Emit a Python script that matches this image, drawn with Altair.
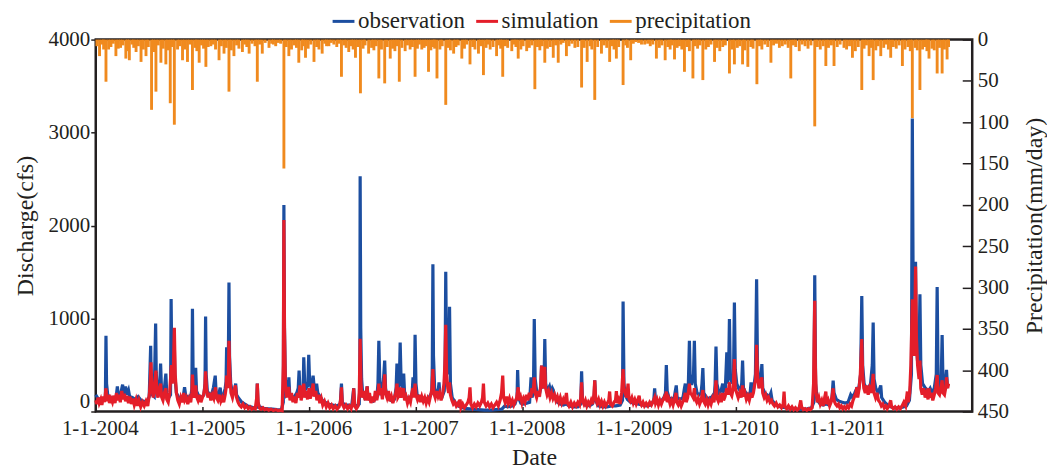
import altair as alt
import pandas as pd

# ---- data (day offset from 1-1-2004, value) ----
OBS = [
    (0,180),(8,140),(20,120),(33,150),(35,815),(37,300),(41,180),(50,150),(60,140),(70,160),(74,270),(77,170),(86,200),(92,290),(95,190),(102,270),(106,180),(112,230),(116,160),(125,150),(135,130),(145,160),(155,120),(165,110),(175,100),(183,160),(188,707),(190,300),(193,180),(200,160),(205,947),(207,420),(211,220),(218,200),(222,515),(225,240),(232,160),(240,407),(243,190),(250,150),(256,180),(258,1211),(260,600),(264,350),(268,880),(271,380),(276,200),(284,150),(292,140),(300,170),(304,260),(308,170),(318,150),(326,180),(329,240),(331,1104),(333,480),(336,260),(340,300),(342,470),(345,220),(352,170),(362,150),
    (370,180),(374,300),(376,1022),(378,400),(382,220),(390,180),(398,200),(403,260),(409,386),(412,200),(420,170),(426,257),(429,170),(436,160),(443,250),(446,320),(448,690),(451,380),(454,600),(456,1386),(458,600),(462,300),(468,200),(475,220),(479,300),(482,180),(490,140),(500,100),(510,80),(520,60),(530,50),(540,40),(550,45),(552,200),(553,300),(555,100),(560,50),(575,35),(590,30),(605,25),(620,20),(635,18),(642,100),(644,2220),(646,900),(649,350),(653,180),(658,200),(661,368),(664,180),(670,150),(680,160),(688,200),(693,250),(696,440),(699,230),(705,200),(710,250),(712,582),(715,320),(720,250),(726,280),(729,611),(732,320),(738,250),
    (744,386),(748,250),(752,230),(756,300),(760,200),(768,160),(776,120),(785,100),(795,80),(810,70),(825,60),(837,80),(841,300),(844,100),(852,70),(865,70),(876,60),(883,250),(886,70),(895,60),(902,80),(904,400),(905,2530),(907,900),(910,350),(914,180),(920,150),(926,200),(929,270),(932,150),(940,120),(950,110),(962,150),(966,300),(969,761),(972,350),(976,200),(982,220),(986,400),(989,547),(992,250),(998,150),(1006,130),(1015,110),(1022,130),(1028,250),(1031,515),(1034,220),(1039,300),(1042,743),(1045,350),(1050,250),(1054,407),(1057,200),(1065,140),(1075,120),(1083,200),(1086,368),(1089,200),(1091,300),(1093,825),(1096,300),
    (1100,180),(1110,150),(1120,140),(1130,130),(1140,150),(1150,200),(1152,500),(1154,1583),(1156,600),(1160,250),(1165,200),(1172,220),(1175,314),(1178,180),(1186,160),(1193,220),(1196,600),(1198,1504),(1200,800),(1206,400),(1209,700),(1211,1126),(1214,300),(1220,150),(1230,100),(1240,60),(1255,40),(1270,30),(1290,25),(1310,20),(1330,15),(1350,15),(1370,20),(1390,25),(1400,60),(1410,50),(1425,60),(1435,80),(1442,150),(1444,447),(1447,150),(1455,90),
    (1465,80),(1475,90),(1485,100),(1490,368),(1493,150),(1498,200),(1501,994),(1504,350),(1510,200),(1518,180),(1523,250),(1526,493),(1529,300),(1534,250),(1537,779),(1540,300),(1546,200),(1550,250),(1553,270),(1558,200),(1563,250),(1566,230),(1572,150),(1580,100),(1590,80),(1600,70),(1611,80),(1620,60),(1635,50),(1650,50),(1660,80),(1663,432),(1666,120),(1675,70),(1690,60),(1700,80),(1706,150),(1708,335),(1711,120),(1720,60),(1735,50),(1750,50),(1765,60),(1780,60),(1795,70),(1803,120),(1805,1183),(1808,300),(1812,180),(1820,130),
    (1830,100),(1840,90),(1855,80),(1870,70),(1885,60),(1900,70),(1910,120),(1913,250),(1916,120),(1925,90),(1935,110),(1945,150),(1950,200),(1953,500),(1956,220),(1962,150),(1970,130),(1980,150),(1987,280),(1990,150),(2000,130),(2010,150),(2015,250),(2018,300),(2022,180),(2028,250),(2032,761),(2035,300),(2040,300),(2046,400),(2049,761),(2052,300),(2058,200),(2065,180),(2072,200),(2075,300),(2078,468),(2081,200),(2090,150),(2100,140),(2110,160),(2118,200),(2120,300),(2123,700),(2126,300),(2133,200),(2140,220),(2146,300),(2149,220),(2155,250),(2160,636),(2163,300),(2166,400),(2169,994),(2172,400),(2178,300),(2183,400),(2186,1172),(2189,450),
    (2194,300),(2200,250),(2206,220),(2211,300),(2214,547),(2217,250),(2225,200),(2233,180),(2240,200),(2243,314),(2246,200),(2252,250),(2258,400),(2262,1422),(2265,500),(2270,300),(2277,350),(2280,511),(2283,250),(2290,200),(2298,180),(2305,150),(2311,200),(2315,120),(2325,80),(2335,60),(2345,50),(2360,40),(2375,35),(2390,30),(2405,25),(2420,25),(2435,30),(2450,40),(2458,100),(2461,1465),(2464,300),(2470,120),(2480,80),(2490,70),(2500,80),(2510,70),(2520,150),(2524,332),(2527,200),(2535,130),(2545,110),(2555,100),
    (2565,90),(2575,100),(2584,180),(2590,150),(2598,200),(2605,250),(2612,250),(2618,400),(2622,1243),(2625,500),(2630,300),(2637,250),(2645,250),(2652,300),(2658,500),(2661,957),(2664,350),(2670,250),(2678,200),(2687,280),(2690,150),(2700,100),(2710,70),(2720,50),(2735,40),(2750,40),(2765,50),(2775,60),(2785,120),(2792,400),(2795,3150),(2798,1200),(2802,600),(2806,1610),(2809,700),(2814,500),(2818,600),(2821,1261),(2824,500),(2830,300),(2840,250),(2850,220),(2856,250),(2862,200),(2870,250),(2877,400),(2880,1340),(2883,400),(2888,250),(2894,350),(2897,822),(2900,300),(2906,250),(2912,447),(2915,280),(2919,300),
]

SIM = [
    (0,120),(4,80),(8,150),(12,90),(17,130),(21,70),(26,160),(30,100),(35,250),(38,110),(43,180),(47,90),(52,140),(57,100),(62,170),(66,90),(71,200),(75,120),(80,180),(84,100),(89,220),(93,130),(98,190),(102,110),(107,170),(112,90),(117,160),(122,80),(127,140),(132,70),(138,130),(143,60),(148,120),(154,50),(160,100),(166,60),(172,110),(178,60),(184,200),(187,350),(189,528),(192,250),(197,150),(202,300),(206,440),(209,200),(213,150),(218,250),(222,300),(225,160),(230,120),(235,200),(240,250),(243,130),(248,100),(253,200),(256,350),(259,500),(262,300),(266,500),(269,900),(272,400),(276,200),(281,120),(286,80),(291,150),(296,100),(301,200),(305,120),(310,150),(315,80),(320,140),(325,100),(329,200),(331,397),(334,200),(338,150),(342,280),(345,160),(350,120),(355,180),(360,100),(364,140),
    (369,180),(373,250),(376,432),(379,250),(384,150),(389,200),(394,120),(399,180),(404,140),(410,260),(413,150),(418,120),(423,180),(428,110),(433,150),(438,100),(443,180),(446,250),(448,386),(451,250),(454,400),(456,761),(459,400),(463,200),(468,150),(473,220),(478,280),(482,150),(487,100),(492,70),(498,50),(504,80),(510,40),(516,60),(522,30),(528,50),(534,25),(540,40),(546,30),(551,150),(553,300),(556,100),(560,40),(566,25),(572,40),(578,20),(585,30),(592,15),(600,25),(608,10),(616,20),(624,10),(632,15),(638,10),(642,500),(644,2060),(646,900),(649,300),(653,150),(657,250),(661,250),(665,120),(670,200),(675,100),(680,160),(685,90),(690,200),(695,150),(699,280),(703,120),(708,200),(712,300),(716,150),(721,220),(725,130),(730,250),(734,140),
    (739,200),(744,300),(748,160),(753,220),(757,120),(762,180),(767,90),(772,140),(777,70),(783,110),(789,50),(795,90),(801,40),(807,70),(813,30),(820,60),(826,25),(833,50),(838,120),(841,259),(844,80),(850,40),(856,70),(862,30),(868,60),(874,30),(880,100),(883,250),(886,60),(892,30),(898,60),(902,200),(905,783),(908,300),(912,150),(917,220),(922,120),(926,180),(929,270),(932,120),(937,200),(942,90),(947,160),(952,100),(957,220),(962,120),(966,200),(969,300),(972,180),(977,250),(981,130),(985,250),(989,400),(992,200),(997,150),(1002,220),(1007,110),(1012,160),(1017,90),(1022,150),(1027,200),(1031,300),(1034,150),(1039,180),(1042,260),(1045,150),(1050,200),(1054,250),(1057,120),(1062,160),(1067,90),(1072,140),(1077,100),(1082,200),(1086,250),(1089,150),(1093,300),(1096,180),
    (1101,130),(1106,180),(1111,100),(1116,160),(1121,110),(1126,150),(1131,90),(1136,140),(1141,100),(1146,170),(1151,250),(1154,457),(1157,200),(1162,150),(1167,220),(1172,160),(1177,200),(1182,120),(1187,180),(1192,300),(1195,500),(1198,932),(1201,400),(1205,250),(1208,200),(1211,314),(1214,180),(1219,120),(1224,80),(1229,100),(1234,60),(1240,90),(1245,50),(1247,130),(1250,40),(1256,80),(1262,40),(1268,70),(1274,100),(1278,150),(1281,260),(1284,80),(1290,40),(1296,80),(1302,50),(1308,90),(1314,60),(1320,100),(1324,150),(1327,300),(1330,100),(1336,60),(1342,90),(1348,50),(1354,80),(1360,40),(1366,70),(1372,100),(1378,60),(1384,120),(1389,200),(1393,386),(1396,150),(1401,100),(1406,160),(1411,90),(1416,140),(1421,80),(1426,120),(1431,70),(1436,110),(1441,150),(1446,260),(1449,120),(1454,160),(1459,90),
    (1464,140),(1469,100),(1474,180),(1479,120),(1484,200),(1489,150),(1493,250),(1497,200),(1501,368),(1504,200),(1509,150),(1514,220),(1519,160),(1523,280),(1526,493),(1529,300),(1533,250),(1537,480),(1540,250),(1545,180),(1550,220),(1555,150),(1560,200),(1565,140),(1570,180),(1575,120),(1580,160),(1585,100),(1590,150),(1595,90),(1600,130),(1605,80),(1611,200),(1614,100),(1620,60),(1626,100),(1632,50),(1638,90),(1644,60),(1650,100),(1656,70),(1660,150),(1663,314),(1666,120),(1671,80),(1676,120),(1681,60),(1686,100),(1691,70),(1696,120),(1701,80),(1705,180),(1708,335),(1711,150),(1716,90),(1721,130),(1726,70),(1731,110),(1736,60),(1741,100),(1746,60),(1751,90),(1756,120),(1759,215),(1762,80),(1768,60),(1774,100),(1779,120),(1782,220),(1785,90),(1790,130),(1795,80),(1800,200),(1805,457),(1808,250),(1812,200),(1817,150),(1822,300),(1825,140),
    (1830,110),(1835,150),(1840,90),(1845,130),(1850,80),(1855,120),(1860,170),(1863,100),(1868,70),(1873,100),(1878,60),(1884,90),(1890,60),(1896,100),(1902,70),(1908,110),(1913,150),(1916,90),(1921,130),(1926,70),(1931,120),(1936,80),(1942,130),(1947,160),(1950,120),(1953,215),(1956,100),(1961,140),(1966,80),(1971,120),(1976,70),(1981,130),(1986,200),(1989,100),(1994,70),(1999,110),(2004,60),(2009,100),(2014,150),(2018,200),(2021,100),(2026,150),(2032,300),(2035,200),(2040,180),(2045,150),(2049,250),(2052,140),(2057,100),(2062,140),(2067,80),(2072,120),(2078,230),(2081,110),(2086,80),(2091,130),(2096,70),(2101,120),(2106,80),(2111,140),(2116,100),(2120,200),(2123,335),(2126,150),(2131,110),(2136,160),(2141,100),(2146,200),(2149,120),(2154,160),(2160,250),(2164,180),(2169,314),(2172,200),(2177,170),(2182,250),(2186,565),(2189,250),
    (2194,200),(2199,150),(2204,200),(2209,150),(2214,280),(2217,160),(2222,200),(2227,130),(2232,170),(2237,120),(2243,200),(2246,150),(2251,200),(2256,300),(2259,350),(2262,718),(2265,400),(2270,250),(2275,300),(2280,368),(2283,200),(2288,150),(2293,180),(2298,120),(2303,150),(2308,100),(2313,120),(2318,80),(2323,60),(2329,90),(2335,50),(2341,70),(2347,40),(2353,80),(2356,215),(2359,50),(2365,30),(2371,60),(2377,25),(2383,50),(2389,20),(2395,40),(2401,15),(2407,30),(2413,120),(2416,50),(2422,20),(2428,30),(2434,15),(2440,30),(2446,20),(2452,40),(2457,300),(2459,800),(2461,1190),(2463,500),(2466,200),(2470,100),(2475,150),(2480,80),(2485,120),(2490,60),(2495,150),(2499,215),(2502,80),(2507,120),(2512,60),(2517,100),(2521,180),(2524,250),(2527,120),(2532,80),(2537,60),(2542,80),(2547,40),(2552,60),(2557,30),
    (2562,50),(2567,30),(2572,60),(2577,40),(2582,80),(2587,60),(2592,120),(2597,160),(2602,200),(2605,260),(2608,150),(2613,250),(2617,400),(2622,779),(2625,400),(2629,250),(2634,200),(2639,280),(2644,180),(2649,250),(2654,200),(2658,300),(2661,404),(2664,200),(2669,150),(2674,200),(2679,120),(2684,100),(2689,60),(2694,80),(2699,40),(2704,60),(2709,30),(2715,60),(2721,120),(2724,50),(2730,30),(2736,50),(2742,25),(2748,50),(2754,30),(2760,60),(2766,100),(2772,60),(2778,215),(2781,100),(2786,200),(2790,500),(2793,900),(2795,1208),(2798,700),(2802,600),(2806,1560),(2809,800),(2813,500),(2818,350),(2821,547),(2824,250),(2829,180),(2834,250),(2839,150),(2844,200),(2849,130),(2852,250),(2855,150),(2860,200),(2865,120),(2870,180),(2875,250),(2880,393),(2883,200),(2888,180),(2893,250),(2897,335),(2900,200),(2905,180),(2909,250),(2912,368),(2916,250),(2919,300),
]

PRECIP = [
    (13,20),(35,51),(44,12),(69,20),(85,10),(103,23),(115,25),(138,15),(155,27),(172,20),(191,85),(206,63),(223,28),(240,30),(255,77),(269,103),(280,12),(297,25),(314,27),(331,61),(354,28),(377,33),(394,8),(422,25),(439,17),(456,63),(473,20),(502,15),(525,17),(553,51),(570,17),(593,10),(616,8),(644,156),(661,20),(695,28),(718,22),(747,27),(775,17),(798,8),(841,45),(866,15),(889,22),(906,65),(934,17),(969,47),(989,53),
    (1008,23),(1039,51),(1059,14),(1093,45),(1116,12),(1139,39),(1168,47),(1198,79),(1225,17),(1253,23),(1281,30),(1310,17),(1327,43),(1350,12),(1372,20),(1393,45),(1424,14),(1446,23),(1475,14),(1503,60),(1537,28),(1566,22),(1583,28),(1611,20),(1640,10),(1663,58),(1682,27),(1708,73),(1731,17),(1759,27),(1782,23),(1805,55),(1831,25),(1879,6),(1919,23),(1949,25),(1981,24),
    (2015,39),(2044,47),(2078,49),(2118,27),(2169,41),(2186,30),(2214,30),(2232,33),(2263,54),(2311,28),(2340,10),(2379,47),(2408,14),(2461,105),(2499,32),(2527,32),(2561,10),(2590,22),(2622,61),(2647,20),(2661,49),(2687,20),(2721,22),(2761,32),(2795,95),(2821,61),(2852,23),(2880,41),(2897,41),(2914,24),
]

PRECIP_SMALL = [
    (4,8),(22,6),(27,12),(52,9),(60,5),(77,11),(93,7),(109,14),(124,6),(130,10),(146,8),(163,12),(180,9),(198,15),(214,7),(231,11),(247,13),(262,9),(288,8),(305,12),(322,6),(340,10),(346,14),(362,7),(369,11),(385,9),(402,6),(410,12),(430,8),(447,10),(464,13),(482,7),(490,11),(510,6),(517,9),(535,5),(545,8),(561,6),(580,4),(602,5),(608,6),(625,4),(633,5),(652,9),(670,12),(680,7),(687,10),(705,13),(710,8),(727,11),(736,6),(756,9),(764,12),(784,5),(790,8),(806,4),(815,6),(825,9),(833,5),(850,7),(857,10),(875,8),(881,12),(897,9),(915,11),(922,7),(944,10),(952,13),(960,8),(978,12),(998,9),
    (1016,11),(1024,14),(1031,8),(1048,10),(1067,7),(1076,12),(1084,9),(1101,11),(1108,6),(1124,10),(1131,8),(1147,13),(1155,9),(1160,11),(1178,12),(1186,8),(1207,10),(1214,13),(1233,9),(1241,7),(1262,11),(1270,6),(1290,9),(1298,12),(1318,8),(1336,10),(1342,6),(1360,9),(1380,7),(1386,11),(1402,8),(1410,10),(1432,6),(1438,9),(1455,12),(1463,8),(1484,10),(1493,7),(1512,9),(1520,13),(1528,8),(1546,11),(1556,9),(1574,7),(1592,6),(1600,4),(1620,8),(1630,5),(1650,9),(1672,10),(1692,8),(1698,12),(1718,9),(1740,7),(1749,10),(1768,8),(1774,12),(1790,9),(1814,7),(1820,10),(1840,5),(1848,3),(1858,4),(1868,6),(1889,5),(1898,8),(1907,6),(1929,10),(1938,7),(1958,9),(1966,12),(1972,7),(1990,10),(1998,8),
    (2006,12),(2024,9),(2032,14),(2052,8),(2060,11),(2068,7),(2088,12),(2097,9),(2106,6),(2127,10),(2136,14),(2146,9),(2155,7),(2178,12),(2196,10),(2204,8),(2222,13),(2242,9),(2250,11),(2272,8),(2280,12),(2290,6),(2300,9),(2320,7),(2330,5),(2350,8),(2360,6),(2370,10),(2388,7),(2396,9),(2418,6),(2428,8),(2438,11),(2448,7),(2470,9),(2480,12),(2490,8),(2508,10),(2518,7),(2538,9),(2548,6),(2570,12),(2580,8),(2600,14),(2610,9),(2630,11),(2638,7),(2655,10),(2670,13),(2678,8),(2697,10),(2706,6),(2713,12),(2730,9),(2740,11),(2750,7),(2770,12),(2780,9),(2788,14),(2805,10),(2812,13),(2830,12),(2840,9),(2845,14),(2862,11),(2870,13),(2888,10),(2905,12),(2919,9),
]

SERIES = ["observation", "simulation", "precipitation"]
COLORS = ["#1c4ea0", "#e41e2a", "#f08a1e"]
YEARS = list(range(2004, 2012))
Q_TICKS = [0, 1000, 2000, 3000, 4000]
P_TICKS = list(range(0, 451, 50))

START = pd.Timestamp("2004-01-01")
TEXT = "#231f20"
FONT = "Liberation Serif, Times New Roman, Times, serif"


def frame(points, name):
    df = pd.DataFrame(points, columns=["day", "value"])
    df["date"] = START + pd.to_timedelta(df["day"], unit="D")
    df["base"] = 0
    df["series"] = name
    return df[["date", "value", "base", "series"]]


obs_df = frame(OBS, "observation")
sim_df = frame(SIM, "simulation")
pre_df = frame(sorted(PRECIP + PRECIP_SMALL), "precipitation")

x_scale = alt.Scale(domain=[alt.DateTime(year=2004, month=1, date=1),
                            alt.DateTime(year=2012, month=3, date=19)])
x_axis = alt.Axis(values=[alt.DateTime(year=y, month=1, date=1) for y in YEARS],
                  format="%-m-%-d-%Y", title="Date", offset=-5, tickSize=5,
                  domain=False, labelPadding=6, labelFlush=False,
                  labelOverlap=False, labelOffset=4, titlePadding=7)
X = alt.X("date:T", scale=x_scale, axis=x_axis)

q_scale = alt.Scale(domain=[0, 4000])
q_axis = alt.Axis(values=Q_TICKS, format="d", title="Discharge(cfs)", tickSize=5,
                  domain=False, labelPadding=1, titlePadding=10,
                  labelBaseline=alt.condition("datum.value == 0",
                                              alt.value("bottom"),
                                              alt.value("middle")))

p_scale = alt.Scale(domain=[0, 450], reverse=True)
p_axis = alt.Axis(values=P_TICKS, format="d", orient="right",
                  title="Precipitation(mm/day)", titleAngle=270,
                  titleBaseline="top",
                  offset=-10, tickSize=10, domain=False, labelPadding=5,
                  titlePadding=14)

color_scale = alt.Scale(domain=SERIES, range=COLORS)
legend = alt.Legend(orient="none", legendX=236, legendY=-31, direction="horizontal",
                    title=None, symbolType="stroke", symbolSize=480,
                    symbolStrokeWidth=3, labelFont=FONT, labelFontSize=23,
                    labelColor=TEXT, columnPadding=4, labelOffset=2)
COLOR = alt.Color("series:N", scale=color_scale, legend=legend)

obs = alt.Chart(obs_df).mark_line(strokeWidth=3.2).encode(
    x=X, y=alt.Y("value:Q", scale=q_scale, axis=q_axis), color=COLOR)
sim = alt.Chart(sim_df).mark_line(strokeWidth=3.2).encode(
    x=X, y=alt.Y("value:Q", scale=q_scale, axis=q_axis), color=COLOR)
pre = alt.Chart(pre_df).mark_rule(strokeWidth=2.9).encode(
    x=X,
    y=alt.Y("value:Q", scale=p_scale, axis=p_axis),
    y2=alt.Y2("base:Q"),
    color=COLOR,
)

chart = (
    alt.layer(alt.layer(obs, sim), pre)
    .resolve_scale(y="independent")
    .properties(width=879, height=373,
                padding={"left": 6, "top": 0, "right": 0, "bottom": 0})
    .configure_view(stroke=TEXT, strokeWidth=2.5)
    .configure_axis(grid=False, labelFont=FONT, labelFontSize=21,
                    labelColor=TEXT, titleFont=FONT, titleFontSize=24,
                    titleFontWeight="normal", titleColor=TEXT,
                    tickColor=TEXT, tickWidth=1.5)
)

chart.save("out.html", embed_options={"renderer": "svg", "actions": False})
